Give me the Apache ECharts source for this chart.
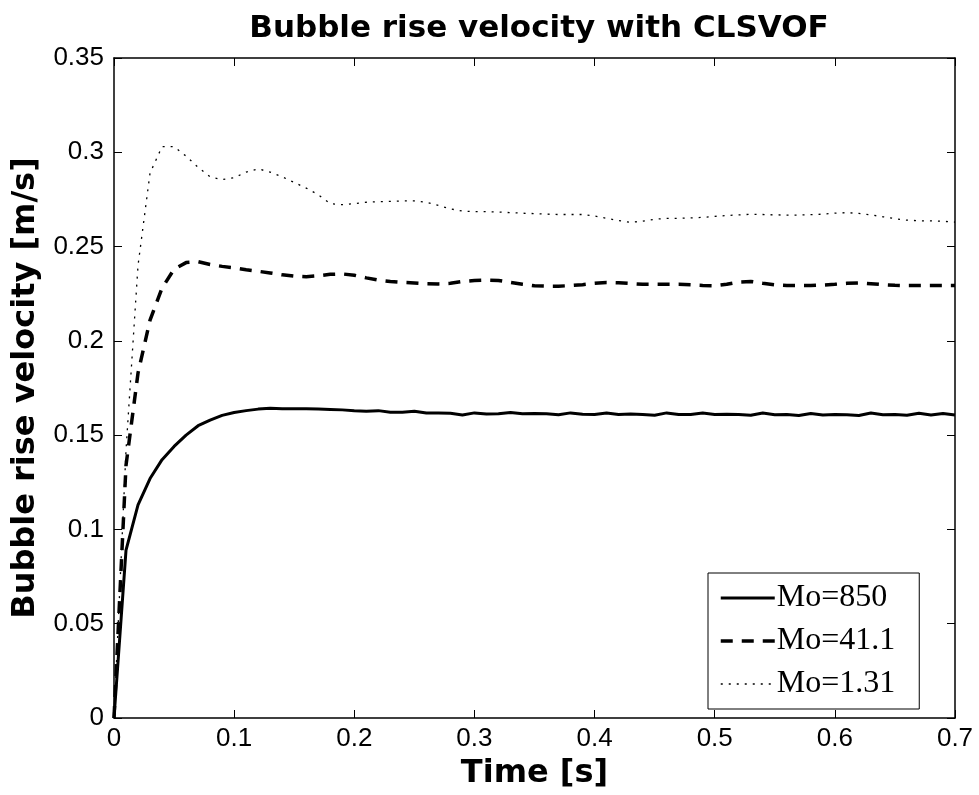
<!DOCTYPE html>
<html>
<head>
<meta charset="utf-8">
<script src="https://cdn.jsdelivr.net/npm/echarts@6/dist/echarts.min.js"></script>
<style>
    html, body { margin: 0; padding: 0; background: #fff; }
    #chart_risevelocity { width: 979px; height: 795px; }
</style>
</head>
<body>
<div id="chart_risevelocity"></div>
<script>
var timeValues = [0, 0.01, 0.02, 0.03, 0.04, 0.05, 0.06, 0.07, 0.08, 0.09,
    0.10, 0.11, 0.12, 0.13, 0.14, 0.15, 0.16, 0.17, 0.18, 0.19,
    0.20, 0.21, 0.22, 0.23, 0.24, 0.25, 0.26, 0.27, 0.28, 0.29,
    0.30, 0.31, 0.32, 0.33, 0.34, 0.35, 0.36, 0.37, 0.38, 0.39,
    0.40, 0.41, 0.42, 0.43, 0.44, 0.45, 0.46, 0.47, 0.48, 0.49,
    0.50, 0.51, 0.52, 0.53, 0.54, 0.55, 0.56, 0.57, 0.58, 0.59,
    0.60, 0.61, 0.62, 0.63, 0.64, 0.65, 0.66, 0.67, 0.68, 0.69, 0.70];

var mo850 = [0, 0.089, 0.113, 0.127, 0.137, 0.144, 0.150, 0.155, 0.158, 0.1605,
    0.162, 0.163, 0.1638, 0.1642, 0.1640, 0.1640, 0.1640, 0.1638, 0.1636, 0.1634,
    0.1630, 0.1627, 0.1630, 0.1622, 0.1622, 0.1627, 0.1617, 0.1617, 0.1616, 0.1607,
    0.1618, 0.1612, 0.1613, 0.1620, 0.1613, 0.1615, 0.1614, 0.1608, 0.1618, 0.1611,
    0.1610, 0.1618, 0.1610, 0.1612, 0.1610, 0.1606, 0.1618, 0.1609, 0.1610, 0.1617,
    0.1609, 0.1611, 0.1610, 0.1605, 0.1617, 0.1608, 0.1610, 0.1604, 0.1615, 0.1607,
    0.1609, 0.1608, 0.1604, 0.1617, 0.1608, 0.1610, 0.1605, 0.1616, 0.1607, 0.1615, 0.1607];

var mo411 = [0, 0.134, 0.183, 0.211, 0.228, 0.238, 0.2415, 0.2420, 0.2405, 0.2395,
    0.2387, 0.2377, 0.2369, 0.2360, 0.2350, 0.2343, 0.2340, 0.2345, 0.2353, 0.2355,
    0.2348, 0.2334, 0.2322, 0.2315, 0.2310, 0.2307, 0.2303, 0.2302, 0.2305, 0.2315,
    0.2320, 0.2322, 0.2320, 0.2310, 0.2300, 0.2292, 0.2290, 0.2290, 0.2293, 0.2298,
    0.2305, 0.2310, 0.2308, 0.2304, 0.2300, 0.2300, 0.2300, 0.2300, 0.2297, 0.2294,
    0.2292, 0.2300, 0.2312, 0.2315, 0.2305, 0.2297, 0.2294, 0.2293, 0.2293, 0.2296,
    0.2300, 0.2305, 0.2307, 0.2303, 0.2298, 0.2295, 0.2293, 0.2293, 0.2293, 0.2293, 0.2293];

var mo131 = [0, 0.142, 0.240, 0.289, 0.303, 0.303, 0.298, 0.292, 0.287, 0.2855,
    0.2865, 0.2895, 0.2912, 0.2895, 0.2870, 0.2840, 0.2810, 0.2775, 0.2728, 0.2722,
    0.2728, 0.2735, 0.2738, 0.2740, 0.2742, 0.2742, 0.2735, 0.2718, 0.2700, 0.2688,
    0.2685, 0.2685, 0.2683, 0.2680, 0.2677, 0.2675, 0.2672, 0.2670, 0.2670, 0.2670,
    0.2662, 0.2650, 0.2638, 0.2628, 0.2635, 0.2645, 0.2649, 0.2650, 0.2652, 0.2655,
    0.2660, 0.2665, 0.2668, 0.2671, 0.2670, 0.2668, 0.2667, 0.2667, 0.2669, 0.2672,
    0.2677, 0.2680, 0.2676, 0.2668, 0.2658, 0.2648, 0.2640, 0.2637, 0.2636, 0.2634, 0.2630];

var seriesNames = ['Mo=850', 'Mo=41.1', 'Mo=1.31'];

var RiseVelocityChartModule = (function () {
    return function () {
        var chartDom = document.getElementById('chart_risevelocity');
        var chartInstance = echarts.init(chartDom, null, { renderer: 'canvas' });

        // line looks shared by the plot and the legend
        var solidStyle = { color: '#000', width: 3, type: 'solid' };
        var dashStyle = { color: '#000', width: 3.5, type: [12, 9] };
        var dotStyle = { color: '#000', width: 1.3, type: [2, 6] };

        function pairUp(values) {
            var data = [];
            for (var i = 0; i < timeValues.length; i++) {
                data.push([timeValues[i], values[i]]);
            }
            return data;
        }

        function frameAxis(extra) {
            var axis = {
                type: 'value',
                axisLine: { show: true, onZero: false, lineStyle: { color: '#000', width: 1.5 } },
                axisTick: { show: true, inside: true, length: 8, lineStyle: { color: '#000', width: 1 } },
                splitLine: { show: false },
                axisLabel: { show: false }
            };
            for (var k in extra) {
                axis[k] = extra[k];
            }
            return axis;
        }

        function getChartOption() {
            var sansFont = 'Liberation Sans, Arial, sans-serif';
            var boldFont = 'DejaVu Sans, Liberation Sans, sans-serif';
            var labelStyle = { show: true, color: '#000', fontFamily: sansFont, fontSize: 26 };
            var nameStyle = { color: '#000', fontFamily: boldFont, fontWeight: 'bold', fontSize: 32 };
            var hiddenMark = { color: 'transparent', borderWidth: 0, opacity: 0 };
            return {
                backgroundColor: '#fff',
                animation: false,
                title: {
                    text: 'Bubble rise velocity with CLSVOF',
                    left: 534,
                    top: 8,
                    textAlign: 'center',
                    textStyle: { color: '#000', fontFamily: boldFont, fontWeight: 'bold', fontSize: 31 }
                },
                grid: { left: 114, right: 24, top: 58, bottom: 74, containLabel: false },
                legend: {
                    data: [
                        { name: seriesNames[0], itemStyle: hiddenMark, lineStyle: solidStyle },
                        { name: seriesNames[1], itemStyle: hiddenMark, lineStyle: dashStyle },
                        { name: seriesNames[2], itemStyle: hiddenMark, lineStyle: dotStyle }
                    ],
                    orient: 'vertical',
                    left: 708,
                    top: 573,
                    padding: [9, 24, 9, 11],
                    itemWidth: 54,
                    itemHeight: 30,
                    itemGap: 11,
                    backgroundColor: '#fff',
                    borderColor: '#000',
                    borderWidth: 1,
                    borderRadius: 0,
                    textStyle: {
                        color: '#000',
                        fontFamily: 'Liberation Serif, Times New Roman, serif',
                        fontSize: 32,
                        padding: [0, 0, 0, -3]
                    }
                },
                xAxis: [
                    frameAxis({
                        position: 'bottom', min: 0, max: 0.7, interval: 0.1,
                        axisLabel: labelStyle,
                        name: 'Time [s]', nameLocation: 'middle', nameGap: 40,
                        nameTextStyle: nameStyle
                    }),
                    frameAxis({ position: 'top', min: 0, max: 0.7, interval: 0.1 })
                ],
                yAxis: [
                    frameAxis({
                        position: 'left', min: 0, max: 0.35, interval: 0.05,
                        axisLabel: { show: true, color: '#000', fontFamily: sansFont, fontSize: 26, margin: 10 },
                        name: 'Bubble rise velocity [m/s]', nameLocation: 'middle', nameGap: 72,
                        nameTextStyle: nameStyle
                    }),
                    frameAxis({ position: 'right', min: 0, max: 0.35, interval: 0.05 })
                ],
                series: [
                    { name: seriesNames[0], type: 'line', symbol: 'none', lineStyle: solidStyle, itemStyle: { color: '#000' }, data: pairUp(mo850) },
                    { name: seriesNames[1], type: 'line', symbol: 'none', lineStyle: dashStyle, itemStyle: { color: '#000' }, data: pairUp(mo411) },
                    { name: seriesNames[2], type: 'line', symbol: 'none', lineStyle: dotStyle, itemStyle: { color: '#000' }, data: pairUp(mo131) }
                ]
            };
        }

        function run() {
            chartInstance.setOption(getChartOption());
        }

        return { run: run };
    };
})();

RiseVelocityChartModule().run();
</script>
</body>
</html>
